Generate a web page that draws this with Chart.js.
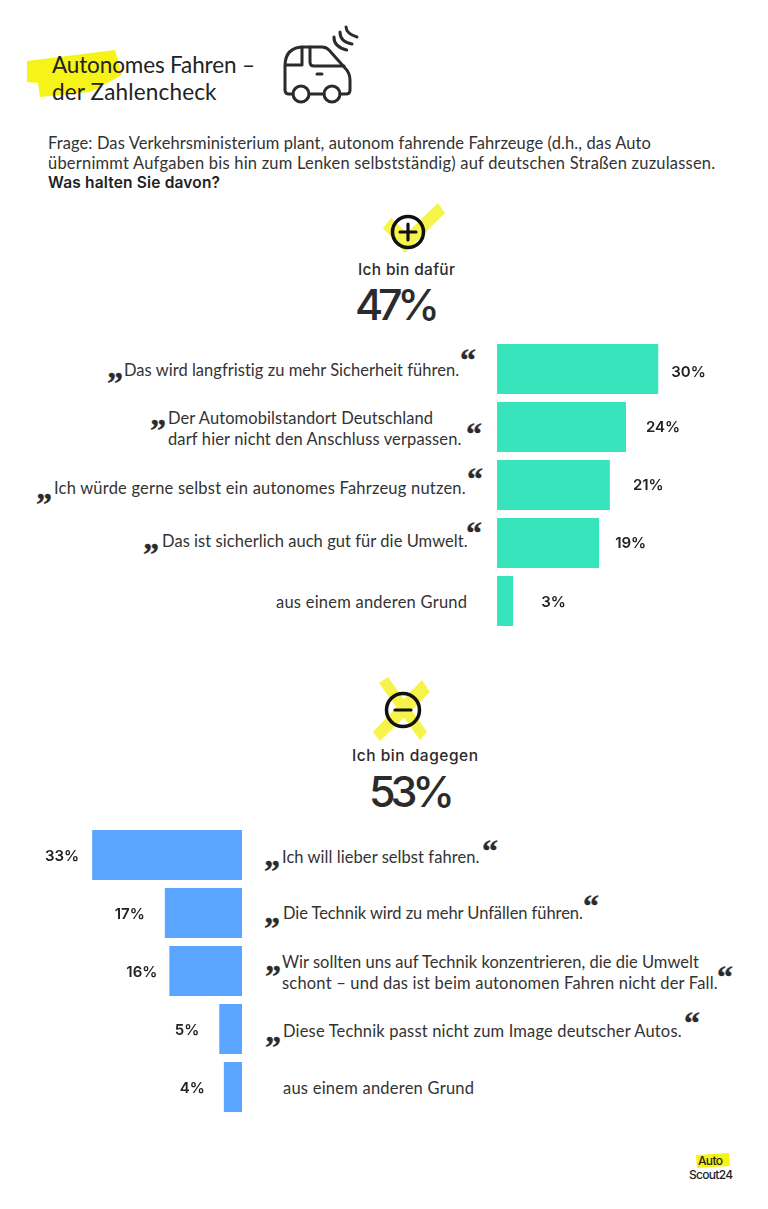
<!DOCTYPE html>
<html lang="de">
<head>
<meta charset="utf-8">
<title>Autonomes Fahren – der Zahlencheck</title>
<script src="https://cdn.jsdelivr.net/npm/chart.js@4"></script>
<style>
  html,body{margin:0;padding:0;background:#fff;}
  #page{position:relative;width:768px;height:1209px;overflow:hidden;font-family:Lato,sans-serif;color:#333;}
  #art{position:absolute;left:0;top:0;}
  canvas{position:absolute;}
  .t{position:absolute;white-space:nowrap;transform:translateY(-50%);line-height:1.2;}
  .q{position:absolute;white-space:nowrap;font-family:"Liberation Serif",serif;font-weight:700;font-size:32px;line-height:32px;color:#2b2b2b;-webkit-text-stroke:0.4px #2b2b2b;}
</style>
</head>
<body>
<div id="page">
  <svg id="art" width="768" height="1209" viewBox="0 0 768 1209">
    <!-- yellow marker strokes -->
    <polygon fill="#f6f318" points="27,61 115,50 122,75 100,87 90,92 40,97 38,83 27,82"/>
    <polygon fill="#f6f34a" points="383,228 391,218 407,233 438,203 445,213 405,253"/>
    <polygon fill="#f6f34a" points="379,683 388,677 427,732 420,740"/>
    <polygon fill="#f6f34a" points="430,692 422,680 373,732 380,741"/>
    <polygon fill="#f6f318" points="696,1155 729,1153 730,1166 697,1168"/>
    <!-- car -->
    <g fill="none" stroke="#2b2b2b" stroke-width="3" stroke-linecap="round" stroke-linejoin="round">
      <path d="M293,94 H289 Q285,94 285,90 V66 Q285,47 304,47 H322 Q326,47 329,50 L345,68 Q350,73 350,80 V90 Q350,94 346,94 H340"/>
      <path d="M309,94 H324"/>
      <circle cx="301" cy="94" r="8"/>
      <circle cx="332" cy="94" r="8"/>
      <path d="M286,65 H302 V47"/>
      <path d="M310,47 V62 Q310,66 314,66 H344"/>
      <path d="M317,74 H322"/>
      <path d="M334,37 Q333.5,46.5 346.7,50"/>
      <path d="M340,32 Q340,42 352,44"/>
      <path d="M346,27 Q346.5,34 357,37"/>
    </g>
    <!-- plus / minus -->
    <g fill="none" stroke="#111" stroke-linecap="round">
      <circle cx="408" cy="232" r="15.5" stroke-width="3.5"/>
      <path d="M408,224 V240 M400,232 H416" stroke-width="3.2"/>
      <circle cx="403" cy="710" r="16.5" stroke-width="3.5"/>
      <path d="M395,710 H411" stroke-width="3.2"/>
    </g>
  </svg>
  <canvas id="proChart" width="215" height="290" style="left:497px;top:340px"></canvas>
  <canvas id="contraChart" width="227" height="290" style="left:15px;top:826px"></canvas>
</div>

<script>
// chart data
const proCategories = [
  ['Das wird langfristig zu mehr Sicherheit führen.'],
  ['Der Automobilstandort Deutschland', 'darf hier nicht den Anschluss verpassen.'],
  ['Ich würde gerne selbst ein autonomes Fahrzeug nutzen.'],
  ['Das ist sicherlich auch gut für die Umwelt.'],
  ['aus einem anderen Grund']
];
const proValues = [30, 24, 21, 19, 3];
const contraCategories = [
  ['Ich will lieber selbst fahren.'],
  ['Die Technik wird zu mehr Unfällen führen.'],
  ['Wir sollten uns auf Technik konzentrieren, die die Umwelt', 'schont – und das ist beim autonomen Fahren nicht der Fall.'],
  ['Diese Technik passt nicht zum Image deutscher Autos.'],
  ['aus einem anderen Grund']
];
const contraValues = [33, 17, 16, 5, 4];

// layout of the html labels: x, right edge per line, centre y per line
const proLabelBoxes = [
  {x:124, r:[460], y:[369]},
  {x:168, r:[434,463], y:[417,438]},
  {x:54, r:[466], y:[487]},
  {x:162, r:[468], y:[540]},
  {x:276, r:[467], y:[601]}
];
const contraLabelBoxes = [
  {x:282, r:[480], y:[856]},
  {x:283, r:[584], y:[912]},
  {x:282, r:[700,718], y:[961,982]},
  {x:283, r:[683], y:[1030]},
  {x:283, r:[474], y:[1087]}
];
// quote marks: [closing x, y, opening x, y]
const proQuotes = [[108,372,461,349],[151,419,467,423],[37,493,468,468],[144,543,467,522]];
const contraQuotes = [[265,860,483,840],[265,917,584,895],[266,965,718,966],[266,1036,685,1012]];
// gap between bar end and value label
const proGaps = [13, 20, 23, 16, 28];
const contraGaps = [13, 20, 12, 20, 19];
const proNudge = [3, 0, 0, 0, 1];
const contraNudge = [1, 1, 1, 1, 1];

const page = document.getElementById('page');
const measure = document.createElement('canvas').getContext('2d');

// puts one text on the page and stretches the letter spacing to the wanted width
function addText(text, x, right, y, size, weight, color, family){
  const el = document.createElement('div');
  el.className = 't';
  el.textContent = text;
  el.style.left = x + 'px';
  el.style.top = y + 'px';
  el.style.fontSize = size + 'px';
  el.style.fontWeight = weight || 400;
  el.style.fontFamily = family || 'Lato';
  if(color) el.style.color = color;
  measure.font = `${weight || 400} ${size}px ${family || 'Lato'}`;
  const w = measure.measureText(text).width;
  el.style.letterSpacing = ((right - x - w) / (text.length - 1)) + 'px';
  page.appendChild(el);
}

function addQuote(ch, x, y){
  const el = document.createElement('div');
  el.className = 'q';
  el.textContent = ch;
  el.style.left = (x - 1) + 'px';
  el.style.top = (y - 5) + 'px';
  page.appendChild(el);
}

function addLabels(categories, boxes, quotes){
  categories.forEach((lines, i) => {
    lines.forEach((line, j) => addText(line, boxes[i].x, boxes[i].r[j], boxes[i].y[j] + 1.5, 16.5, 400));
    if(quotes[i]){
      addQuote('”', quotes[i][0], quotes[i][1]);
      addQuote('“', quotes[i][2], quotes[i][3]);
    }
  });
}

addText('Autonomes Fahren –', 52, 255, 63.5, 22.5, 400, '#222');
addText('der Zahlencheck', 52, 217, 90.5, 22.5, 400, '#222');
addText('Frage: Das Verkehrsministerium plant, autonom fahrende Fahrzeuge (d.h., das Auto', 48, 652, 143.5, 16.5, 400);
addText('übernimmt Aufgaben bis hin zum Lenken selbstständig) auf deutschen Straßen zuzulassen.', 48, 716, 163.5, 16.5, 400);
addText('Was halten Sie davon?', 48, 220, 183, 15.5, 600, '#222', 'Inter');
addText('Ich bin dafür', 358, 455, 270, 15.5, 500, '#2b2b2b', 'Inter');
addText('47%', 355, 440, 305, 43, 500, '#2b2b2b', 'Inter');
addText('Ich bin dagegen', 352, 478, 756, 15.5, 500, '#2b2b2b', 'Inter');
addText('53%', 369, 455, 792, 43, 500, '#2b2b2b', 'Inter');
addLabels(proCategories, proLabelBoxes, proQuotes);
addLabels(contraCategories, contraLabelBoxes, contraQuotes);
addText('Auto', 698, 723, 1160.5, 12, 500, '#222', 'Inter');
addText('Scout24', 689, 733, 1175, 12, 500, '#222', 'Inter');

// value labels next to the bar ends
const valueLabels = {
  id: 'valueLabels',
  afterDatasetsDraw(chart, args, opts){
    const ctx = chart.ctx;
    ctx.save();
    ctx.font = '600 15px Inter';
    ctx.fillStyle = '#222';
    ctx.textBaseline = 'middle';
    ctx.textAlign = opts.align;
    chart.getDatasetMeta(0).data.forEach((bar, i) => {
      const dir = opts.align === 'left' ? 1 : -1;
      ctx.fillText(chart.data.datasets[0].data[i] + '%', bar.x + dir * opts.gaps[i], bar.y + opts.nudge[i]);
    });
    ctx.restore();
  }
};

function barChart(id, categories, values, color, axisMax, reverse, gaps, nudge){
  return new Chart(document.getElementById(id), {
    type: 'bar',
    data: {
      labels: categories.map(c => c.join(' ')),
      datasets: [{ data: values, backgroundColor: color, barPercentage: 50/58, categoryPercentage: 1 }]
    },
    options: {
      indexAxis: 'y',
      responsive: false,
      animation: false,
      layout: { padding: 0 },
      scales: {
        x: { display: false, min: 0, max: axisMax, reverse: reverse },
        y: { display: false }
      },
      plugins: {
        legend: { display: false },
        tooltip: { enabled: false },
        valueLabels: { align: reverse ? 'right' : 'left', gaps: gaps, nudge: nudge }
      }
    },
    plugins: [valueLabels]
  });
}

barChart('proChart', proCategories, proValues, '#38e4bc', 40, false, proGaps, proNudge);
barChart('contraChart', contraCategories, contraValues, '#5aa5ff', 50, true, contraGaps, contraNudge);
</script>
</body>
</html>
